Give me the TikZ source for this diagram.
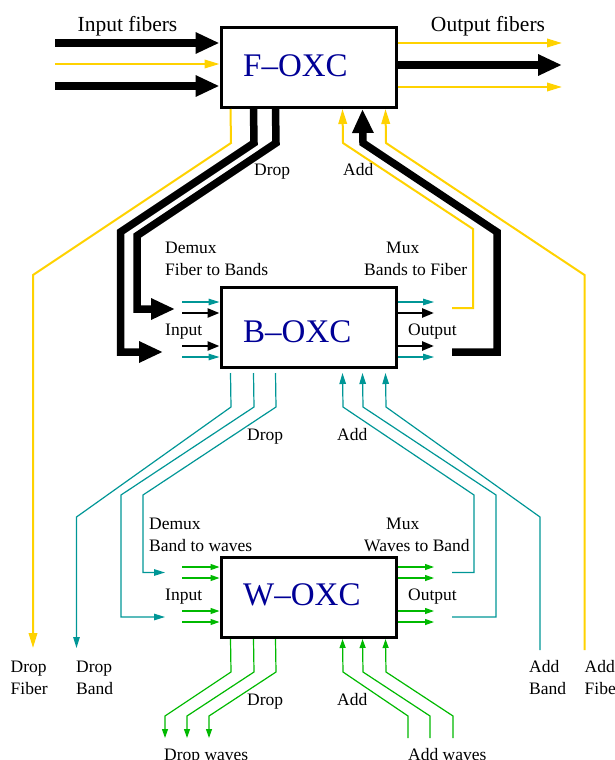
\documentclass[tikz,border=0pt]{standalone}
\usepackage{fontspec}
\setmainfont{Liberation Serif}
\usetikzlibrary{arrows.meta}

\definecolor{fibcol}{RGB}{255,210,0}
\definecolor{bandcol}{RGB}{0,150,150}
\definecolor{wavecol}{RGB}{0,185,0}
\definecolor{oxcblue}{RGB}{0,0,150}

\tikzstyle{oxc}=[draw, line width=3pt, minimum width=175pt, minimum height=80pt]
\tikzstyle{title}=[font=\fontsize{33}{38}\selectfont, text=oxcblue, inner sep=0pt, anchor=base west]
\tikzstyle{lbl}=[font=\fontsize{17.5}{22}\selectfont, inner sep=0pt, anchor=base west, align=left]
\tikzstyle{head}=[font=\fontsize{21.5}{26}\selectfont, inner sep=0pt, anchor=base]
\tikzstyle{fiber}=[line width=7.5pt, >={Triangle[length=24pt,width=20pt]}]
\tikzstyle{yfib}=[fibcol, line width=2pt, >={Triangle[length=15pt,width=8.5pt]}]
\tikzstyle{blk}=[line width=2.5pt, >={Triangle[length=12pt,width=9pt]}]
\tikzstyle{band}=[bandcol, line width=1.2pt, >={Triangle[length=11pt,width=6.5pt]}]
\tikzstyle{wave}=[wavecol, line width=1.2pt, >={Triangle[length=9pt,width=6pt]}]

\begin{document}
\begin{tikzpicture}[x=1pt, y=-1pt]
    \useasboundingbox (0,0) rectangle (614,760);

    % the three cross-connects
    \node[oxc] at (308.5,67.5) (F) {};
    \node[oxc] at (308.5,327.5) (B) {};
    \node[oxc] at (308.5,597.5) (W) {};
    \node[title] at (243,77) (Ft) {F--OXC};
    \node[title] at (243,342) (Bt) {B--OXC};
    \node[title] at (243,605) (Wt) {W--OXC};

    % labels (two-line ones sit on their last line)
    \node[head] at (127.5,32) (infib) {Input fibers};
    \node[head] at (488,32) (outfib) {Output fibers};
    \node[lbl] at (254,175) (Fdrop) {Drop};
    \node[lbl] at (343,175) (Fadd) {Add};
    \node[lbl] at (165,275) (Bdemux) {Demux\\Fiber to Bands};
    \node[lbl] at (364,275) (Bmux) {\hspace*{22pt}Mux\\Bands to Fiber};
    \node[lbl] at (165,335) (Bin) {Input};
    \node[lbl] at (408,335) (Bout) {Output};
    \node[lbl] at (247,440) (Bdrop) {Drop};
    \node[lbl] at (337,440) (Badd) {Add};
    \node[lbl] at (149,551) (Wdemux) {Demux\\Band to waves};
    \node[lbl] at (364,551) (Wmux) {\hspace*{22pt}Mux\\Waves to Band};
    \node[lbl] at (165,600) (Win) {Input};
    \node[lbl] at (408,600) (Wout) {Output};
    \node[lbl] at (247,705) (Wdrop) {Drop};
    \node[lbl] at (337,705) (Wadd) {Add};
    \node[lbl] at (164,760) (dwaves) {Drop waves};
    \node[lbl] at (408,760) (awaves) {Add waves};
    \node[lbl] at (10.5,694) (dfiblbl) {Drop\\Fiber};
    \node[lbl] at (76,694) (dbandlbl) {Drop\\Band};
    \node[lbl] at (529,694) (abandlbl) {Add\\Band};
    \node[lbl] at (584.5,694) (afiblbl) {Add\\Fiber};

    % F-OXC fibres in and out
    \foreach \y/\s [count=\i] in {43/fiber,64/yfib,86/fiber} {
        \coordinate (fin\i) at (55,\y);
        \draw[\s,->] (fin\i) -- (F.west |- fin\i);
    }
    \foreach \y/\s [count=\i] in {43/yfib,65/fiber,87/yfib} {
        \coordinate (fout\i) at (562,\y);
        \draw[\s,->] (F.east |- fout\i) -- (fout\i);
    }

    % F-OXC drop and add
    \coordinate (dfib) at (33,648);
    \coordinate (bin1) at (175,309);
    \coordinate (bin2) at (163,352);
    \draw[yfib,->] ([xshift=11pt]F.south west) -- (231,143) -- (33,275) -- (dfib);
    \draw[fiber,->] ([xshift=56pt]F.south west) -- (276,143) -- (137,235.7) -- (137,309) -- (bin1);
    \draw[fiber,->] ([xshift=34pt]F.south west) -- (254,143) -- (120.5,232) -- (120.5,352) -- (bin2);
    \coordinate (bout1) at (452,308);
    \coordinate (bout2) at (452,352);
    \coordinate (afib) at (584.5,650);
    \draw[yfib,->] (bout1) -- (473,308) -- (473,229) -- (343,143) -- ([xshift=123pt]F.south west);
    \draw[fiber,->] (bout2) -- (497,352) -- (497,232) -- (363,143) -- ([xshift=143pt]F.south west);
    \draw[yfib,->] (afib) -- (584.5,275) -- (386,143) -- ([xshift=166pt]F.south west);

    % B-OXC bands in and out
    \foreach \y/\s [count=\i] in {302/band,313/blk,346/blk,357/band} {
        \coordinate (bi\i) at (182,\y);
        \coordinate (bo\i) at (434,\y);
        \draw[\s,->] (bi\i) -- (B.west |- bi\i);
        \draw[\s,->] (B.east |- bo\i) -- (bo\i);
    }

    % B-OXC drop and add
    \coordinate (dband) at (76.5,648);
    \coordinate (win1) at (165,572.5);
    \coordinate (win2) at (165,617);
    \draw[band,->] ([xshift=11pt,yshift=-4pt]B.south west) -- (231,407) -- (76.5,517) -- (dband);
    \draw[band,->] ([xshift=34pt,yshift=-4pt]B.south west) -- (254,407) -- (121,495) -- (121,617) -- (win2);
    \draw[band,->] ([xshift=56pt,yshift=-4pt]B.south west) -- (276,407) -- (143,495) -- (143,572.5) -- (win1);
    \coordinate (wout1) at (452,572.5);
    \coordinate (wout2) at (452,617);
    \coordinate (aband) at (540,650);
    \draw[band,->] (wout1) -- (474,572.5) -- (474,495) -- (343,407) -- ([xshift=123pt,yshift=-4pt]B.south west);
    \draw[band,->] (wout2) -- (496,617) -- (496,495) -- (363,407) -- ([xshift=143pt,yshift=-4pt]B.south west);
    \draw[band,->] (aband) -- (540,517) -- (386,407) -- ([xshift=166pt,yshift=-4pt]B.south west);

    % W-OXC waves in and out
    \foreach \y [count=\i] in {567,578,611,622} {
        \coordinate (wi\i) at (182,\y);
        \coordinate (wo\i) at (434,\y);
        \draw[wave,->] (wi\i) -- (W.west |- wi\i);
        \draw[wave,->] (W.east |- wo\i) -- (wo\i);
    }

    % W-OXC drop and add
    \foreach \dx/\x/\xe [count=\i] in {11/231/165,34/254/187,56/276/209} {
        \coordinate (dw\i) at (\xe,738);
        \draw[wave,->] ([xshift=\dx pt]W.south west) -- (\x,672) -- (\xe,716) -- (dw\i);
    }
    \foreach \dx/\x/\xe [count=\i] in {123/343/408,143/363/430,166/386/453} {
        \coordinate (aw\i) at (\xe,738);
        \draw[wave,->] (aw\i) -- (\xe,716) -- (\x,672) -- ([xshift=\dx pt]W.south west);
    }
\end{tikzpicture}
\end{document}
